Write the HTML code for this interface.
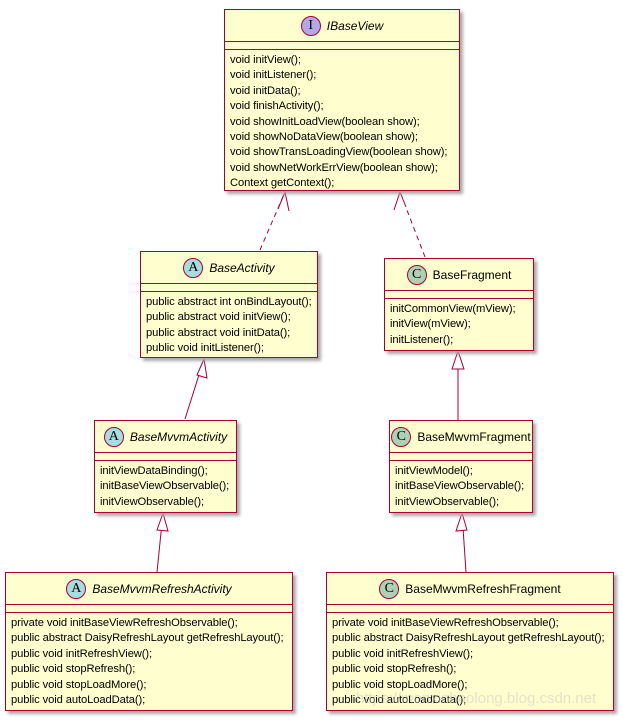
<!DOCTYPE html>
<html><head><meta charset="utf-8"><style>
body{margin:0;width:623px;height:720px;background:#fff;position:relative;overflow:hidden;font-family:"Liberation Sans",sans-serif;}
.b{position:absolute;background:#fefece;border:1.5px solid #a80036;box-shadow:3px 3px 3px #aaa;box-sizing:border-box;}
.h{position:relative;border-bottom:1.5px solid #a80036;display:flex;align-items:center;justify-content:center;font-size:12px;color:#000;white-space:nowrap;}
.h i{font-style:italic}
.e{height:7px;border-bottom:1.5px solid #a80036;}
.m{font-size:11.2px;line-height:15.4px;padding:3px 0 0 5px;white-space:nowrap;color:#000;letter-spacing:-0.1px;}
.c{width:20px;height:20px;border-radius:50%;border:1px solid #a80036;display:inline-flex;align-items:center;justify-content:center;font-family:"Liberation Serif",serif;font-size:14px;margin-right:6px;box-sizing:border-box;flex:none;}
svg{position:absolute;left:0;top:0;}
</style></head><body>
<svg width="623" height="720">
<g stroke="#a80036" stroke-width="1" fill="none">
<path d="M260 250 L285 192" stroke-dasharray="5,4"/>
<path d="M278 209 L285 192 L289 211" fill="#fff"/>
<path d="M425 257 L400 192" stroke-dasharray="5,4"/>
<path d="M394 210 L400 192 L406 207" fill="#fff"/>
<path d="M185 419 L204 359"/><path d="M197 375 L204 359 L207 378 Z" fill="#fff"/>
<path d="M458 420 L458 351"/><path d="M452 369 L458 351 L464 369 Z" fill="#fff"/>
<path d="M157 572 L163 513"/><path d="M157 530 L163 513 L168 531 Z" fill="#fff"/>
<path d="M466 572 L462 513"/><path d="M456 531 L462 513 L467 530 Z" fill="#fff"/>
</g></svg>

<div class="b" style="left:224px;top:9px;width:236px;height:182px">
<div class="h" style="height:31px"><span class="c" style="background:#b4a7e5">I</span><i>IBaseView</i></div>
<div class="e"></div>
<div class="m">void initView();<br>void initListener();<br>void initData();<br>void finishActivity();<br>void showInitLoadView(boolean show);<br>void showNoDataView(boolean show);<br>void showTransLoadingView(boolean show);<br>void showNetWorkErrView(boolean show);<br>Context getContext();</div>
</div>

<div class="b" style="left:140px;top:251px;width:178px;height:107px">
<div class="h" style="height:31px"><span class="c" style="background:#a9dcdf">A</span><i>BaseActivity</i></div>
<div class="e"></div>
<div class="m">public abstract int onBindLayout();<br>public abstract void initView();<br>public abstract void initData();<br>public void initListener();</div>
</div>

<div class="b" style="left:384px;top:258px;width:150px;height:93px">
<div class="h" style="height:31px"><span class="c" style="background:#add1b2">C</span>BaseFragment</div>
<div class="e"></div>
<div class="m">initCommonView(mView);<br>initView(mView);<br>initListener();</div>
</div>

<div class="b" style="left:94px;top:420px;width:143px;height:93px">
<div class="h" style="height:31px"><span class="c" style="background:#a9dcdf">A</span><i>BaseMvvmActivity</i></div>
<div class="e"></div>
<div class="m">initViewDataBinding();<br>initBaseViewObservable();<br>initViewObservable();</div>
</div>

<div class="b" style="left:389px;top:420px;width:144px;height:93px">
<div class="h" style="height:31px"><span class="c" style="background:#add1b2">C</span>BaseMwvmFragment</div>
<div class="e"></div>
<div class="m">initViewModel();<br>initBaseViewObservable();<br>initViewObservable();</div>
</div>

<div class="b" style="left:5px;top:572px;width:288px;height:139px">
<div class="h" style="height:31px"><span class="c" style="background:#a9dcdf">A</span><i>BaseMvvmRefreshActivity</i></div>
<div class="e"></div>
<div class="m">private void initBaseViewRefreshObservable();<br>public abstract DaisyRefreshLayout getRefreshLayout();<br>public void initRefreshView();<br>public void stopRefresh();<br>public void stopLoadMore();<br>public void autoLoadData();</div>
</div>

<div class="b" style="left:326px;top:572px;width:288px;height:139px">
<div class="h" style="height:31px"><span class="c" style="background:#add1b2">C</span>BaseMwvmRefreshFragment</div>
<div class="e"></div>
<div class="m">private void initBaseViewRefreshObservable();<br>public abstract DaisyRefreshLayout getRefreshLayout();<br>public void initRefreshView();<br>public void stopRefresh();<br>public void stopLoadMore();<br>public void autoLoadData();</div>
</div>

<div style="position:absolute;left:356px;top:690px;font-size:15px;color:rgba(200,200,200,0.5);white-space:nowrap">https://monxinhaolong.blog.csdn.net</div>
</body></html>
